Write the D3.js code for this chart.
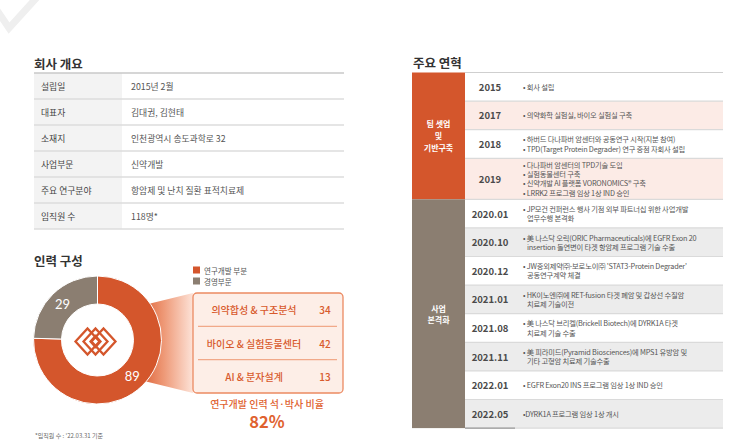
<!DOCTYPE html>
<html><head><meta charset="utf-8">
<script src="https://cdn.jsdelivr.net/npm/d3@7"></script>
<style>
body{margin:0;background:#fff;}
svg{display:block;font-family:"Noto Sans CJK KR","Noto Sans",sans-serif;}
</style>
</head><body>
<svg id="c" width="743" height="448"></svg>
<script>
// ---------------- DATA ----------------
const overviewLabels = ["설립일","대표자","소재지","사업부문","주요 연구분야","임직원 수"];
const overviewValues = ["2015년 2월","김대권, 김현태","인천광역시 송도과학로 32","신약개발","항암제 및 난치 질환 표적치료제","118명*"];
const staffGroups = ["연구개발 부분","경영부문"];
const staffCounts = [89, 29];
const rndFields = ["의약합성 & 구조분석","바이오 & 실험동물센터","AI & 분자설계"];
const rndCounts = [34, 42, 13];
const degreeLabel = "연구개발 인력 석·박사 비율";
const degreeRatio = "82%";
const footnote = "*임직원 수 : '22.03.31 기준";
const historyYears = ["2015","2017","2018","2019","2020.01","2020.10","2020.12","2021.01","2021.08","2021.11","2022.01","2022.05"];
const historyTexts = [
  ["• 회사 설립"],
  ["• 의약화학 실험실, 바이오 실험실 구축"],
  ["• 하버드 다나파버 암센터와 공동연구 시작(지분 참여)","• TPD(Target Protein Degrader) 연구 중점 자회사 설립"],
  ["• 다나파버 암센터의 TPD기술 도입","• 실험동물센터 구축","• 신약개발 AI 플랫폼 VORONOMICS® 구축","• LRRK2 프로그램 임상 1상 IND 승인"],
  ["• JP모건 컨퍼런스 행사 기점 외부 파트너십 위한 사업개발","업무수행 본격화"],
  ["• 美 나스닥 오릭(ORIC Pharmaceuticals)에 EGFR Exon 20","insertion 돌연변이 타겟 항암제 프로그램 기술 수출"],
  ["• JW중외제약㈜-보로노이㈜ 'STAT3-Protein Degrader'","공동연구계약 체결"],
  ["• HK이노엔㈜에 RET-fusion 타겟 폐암 및 갑상선 수질암","치료제 기술이전"],
  ["• 美 나스닥 브리켈(Brickell Biotech)에 DYRK1A 타겟","치료제 기술 수출"],
  ["• 美 피라미드(Pyramid Biosciences)에 MPS1 유방암 및","기타 고형암 치료제 기술수출"],
  ["• EGFR Exon20 INS 프로그램 임상 1상 IND 승인"],
  ["•DYRK1A 프로그램 임상 1상 개시"]
];
const phaseLabels = [["팀 셋업","및","기반구축"],["사업","본격화"]];
const phaseSizes = [4, 8];

// ---------------- STYLE ----------------
const ORANGE = "#d4562c", GREY = "#8b7e71", TXT = "#444";
const svg = d3.select("#c");
const defs = svg.append("defs");

// decorative check mark
svg.append("path").attr("d","M-6,6 L9,28 L40,-6").attr("fill","none")
  .attr("stroke","#efefef").attr("stroke-width",7);

// ---------------- 회사 개요 ----------------
svg.append("text").attr("x",34).attr("y",69).attr("font-size",12.5).attr("font-weight",700)
  .attr("fill","#333").text("회사 개요");
const ovY = d3.scaleBand().domain(overviewLabels).range([73,229]);
const ov = svg.append("g");
ov.selectAll("rect.lab").data(overviewLabels).join("rect").attr("class","lab")
  .attr("x",34).attr("y",d=>ovY(d)).attr("width",88).attr("height",ovY.bandwidth()).attr("fill","#f3f3f3");
ov.selectAll("line").data(overviewLabels.concat(["_end"])).join("line")
  .attr("x1",34).attr("x2",344)
  .attr("y1",(d,i)=>73+i*ovY.bandwidth()).attr("y2",(d,i)=>73+i*ovY.bandwidth())
  .attr("stroke",(d,i)=>i===0?"#c8c8c8":"#dcdcdc").attr("stroke-width",1.5);
ov.selectAll("text.lab").data(overviewLabels).join("text").attr("class","lab")
  .attr("x",41).attr("y",d=>ovY(d)+ovY.bandwidth()/2).attr("dominant-baseline","central")
  .attr("font-size",8.8).attr("fill",TXT).text(d=>d);
ov.selectAll("text.val").data(overviewValues).join("text").attr("class","val")
  .attr("x",131).attr("y",(d,i)=>ovY(overviewLabels[i])+ovY.bandwidth()/2).attr("dominant-baseline","central")
  .attr("font-size",8.8).attr("fill","#555").text(d=>d);

// ---------------- 인력 구성 ----------------
svg.append("text").attr("x",34).attr("y",266).attr("font-size",12.5).attr("font-weight",700)
  .attr("fill","#333").text("인력 구성");

// wedge gradient
const lg = defs.append("linearGradient").attr("id","wg").attr("x1","0").attr("x2","1").attr("y1","0").attr("y2","0");
lg.append("stop").attr("offset","0%").attr("stop-color","#dc5f33");
lg.append("stop").attr("offset","45%").attr("stop-color","#ee9977");
lg.append("stop").attr("offset","100%").attr("stop-color","#fde3d8");

const boxY = d3.scaleBand().domain(rndFields).range([293,393]);
svg.append("path").attr("d",`M140,306 L193,${boxY.range()[0]} L193,${boxY.range()[1]} L140,380 Z`).attr("fill","url(#wg)");

const cx = 97.5, cy = 340;
const pie = d3.pie().sort(null).value(d=>d)(staffCounts);
const arc = d3.arc().innerRadius(36).outerRadius(64);
const dg = svg.append("g").attr("transform",`translate(${cx},${cy})`);
dg.append("circle").attr("r",36).attr("fill","#fff");
dg.selectAll("path").data(pie).join("path").attr("d",arc)
  .attr("fill",(d,i)=>[ORANGE,GREY][i]).attr("stroke","#fff").attr("stroke-width",1);
dg.selectAll("text").data(pie).join("text")
  .attr("transform",d=>`translate(${arc.centroid(d)})`)
  .attr("text-anchor","middle").attr("dominant-baseline","central")
  .attr("font-size",13).attr("fill","#fff").attr("font-family","Lato, 'Noto Sans', sans-serif")
  .text(d=>d.data);

// logo: three interlocking diamonds
const logo = svg.append("g").attr("transform",`translate(${cx-2},${cy+1.5})`).attr("fill","none")
  .attr("stroke",ORANGE).attr("stroke-width",2.3).attr("stroke-linejoin","miter");
[-8,0,8].forEach(dx=>{
  logo.append("path").attr("d",`M${dx-12},0 L${dx},-13 L${dx+12},0 L${dx},13 Z`);
});
logo.append("path").attr("d","M-5,0 L0,-5.5 L5,0 L0,5.5 Z");

// legend
const leg = svg.append("g");
staffGroups.forEach((g,i)=>{
  leg.append("rect").attr("x",193).attr("y",266.5+i*11).attr("width",7).attr("height",7).attr("fill",[ORANGE,GREY][i]);
  leg.append("text").attr("x",204).attr("y",270+i*11).attr("dominant-baseline","central")
    .attr("font-size",7.5).attr("fill","#555").text(g);
});

// breakdown box
svg.append("rect").attr("x",193).attr("y",293).attr("width",150).attr("height",100).attr("rx",4)
  .attr("fill","#fdeee7").attr("stroke","#ec8a62").attr("stroke-width",1.3);
svg.selectAll("line.sep").data(rndFields.slice(1)).join("line").attr("class","sep")
  .attr("x1",198).attr("x2",337).attr("y1",d=>boxY(d)).attr("y2",d=>boxY(d))
  .attr("stroke","#f1a989").attr("stroke-width",1.2);
svg.selectAll("text.fld").data(rndFields).join("text").attr("class","fld")
  .attr("x",254).attr("y",d=>boxY(d)+boxY.bandwidth()/2).attr("text-anchor","middle").attr("dominant-baseline","central")
  .attr("font-size",10).attr("font-weight",500).attr("fill","#d85a2d").text(d=>d);
svg.selectAll("text.cnt").data(rndCounts).join("text").attr("class","cnt")
  .attr("x",325).attr("y",(d,i)=>boxY(rndFields[i])+boxY.bandwidth()/2).attr("text-anchor","middle").attr("dominant-baseline","central")
  .attr("font-size",10).attr("font-weight",500).attr("fill","#d85a2d").text(d=>d);

svg.append("text").attr("x",267).attr("y",403).attr("text-anchor","middle").attr("dominant-baseline","central")
  .attr("font-size",10).attr("font-weight",500).attr("fill","#e0622f").text(degreeLabel);
svg.append("text").attr("x",267).attr("y",428).attr("text-anchor","middle")
  .attr("font-size",16.5).attr("font-weight",700).attr("fill","#e0622f").text(degreeRatio);
svg.append("text").attr("x",35).attr("y",435).attr("dominant-baseline","central")
  .attr("font-size",6).attr("fill","#666").text(footnote);

// ---------------- 주요 연혁 ----------------
svg.append("text").attr("x",413).attr("y",68).attr("font-size",12.5).attr("font-weight",700)
  .attr("fill","#333").text("주요 연혁");

const tX0 = 412, tCat = 465, tX1 = 723, tY0 = 72.5;
const rowH = historyTexts.map(t => Math.max(28.6, t.length*9.4+3.4));
const rowTop = [];
rowH.reduce((acc,h,i)=>{rowTop[i]=acc; return acc+h;}, tY0);
const tBottom = rowTop[rowTop.length-1] + rowH[rowH.length-1];
const phaseOf = i => (i < phaseSizes[0] ? 0 : 1);

const ht = svg.append("g");
ht.selectAll("rect.row").data(historyYears).join("rect").attr("class","row")
  .attr("x",tCat).attr("y",(d,i)=>rowTop[i]).attr("width",tX1-tCat).attr("height",(d,i)=>rowH[i])
  .attr("fill",(d,i)=> i%2===1 ? (phaseOf(i)===0 ? "#fcebe6" : "#ececec") : "#fff");
ht.selectAll("line.row").data(historyYears).join("line").attr("class","row")
  .attr("x1",tCat).attr("x2",tX1).attr("y1",(d,i)=>rowTop[i]).attr("y2",(d,i)=>rowTop[i])
  .attr("stroke",(d,i)=>i===0?"#cfcfcf":"#dadada").attr("stroke-width",1.2);
ht.append("line").attr("x1",tCat).attr("x2",tX1).attr("y1",tBottom).attr("y2",tBottom).attr("stroke","#dadada").attr("stroke-width",1.2);
ht.append("line").attr("x1",tCat).attr("x2",515).attr("y1",tBottom).attr("y2",tBottom).attr("stroke","#9a9a9a").attr("stroke-width",1.2);

// phase column
let pStart = 0;
phaseSizes.forEach((n,p)=>{
  const y0 = rowTop[pStart], y1 = rowTop[pStart+n-1] + rowH[pStart+n-1];
  ht.append("rect").attr("x",tX0).attr("y",y0).attr("width",tCat-tX0).attr("height",y1-y0).attr("fill",[ORANGE,GREY][p]);
  const lines = phaseLabels[p], lh = p===0?12:11;
  lines.forEach((l,k)=>{
    ht.append("text").attr("x",(tX0+tCat)/2).attr("y",(y0+y1)/2 + (k-(lines.length-1)/2)*lh)
      .attr("text-anchor","middle").attr("dominant-baseline","central")
      .attr("font-size",8).attr("font-weight",700).attr("fill","#fff").text(l);
  });
  pStart += n;
});

ht.selectAll("text.yr").data(historyYears).join("text").attr("class","yr")
  .attr("x",490).attr("y",(d,i)=>rowTop[i]+rowH[i]/2).attr("text-anchor","middle").attr("dominant-baseline","central")
  .attr("font-size",9.5).attr("font-weight",700).attr("fill","#4a4a4a").text(d=>d);

historyTexts.forEach((lines,i)=>{
  const mid = rowTop[i]+rowH[i]/2;
  lines.forEach((l,k)=>{
    const cont = !l.startsWith("•");
    ht.append("text").attr("x", cont ? 527 : 523)
      .attr("y", mid + (k-(lines.length-1)/2)*9.3)
      .attr("dominant-baseline","central").attr("font-size",7.3).attr("letter-spacing",-0.2)
      .attr("fill","#555").text(l);
  });
});
</script>
</body></html>
